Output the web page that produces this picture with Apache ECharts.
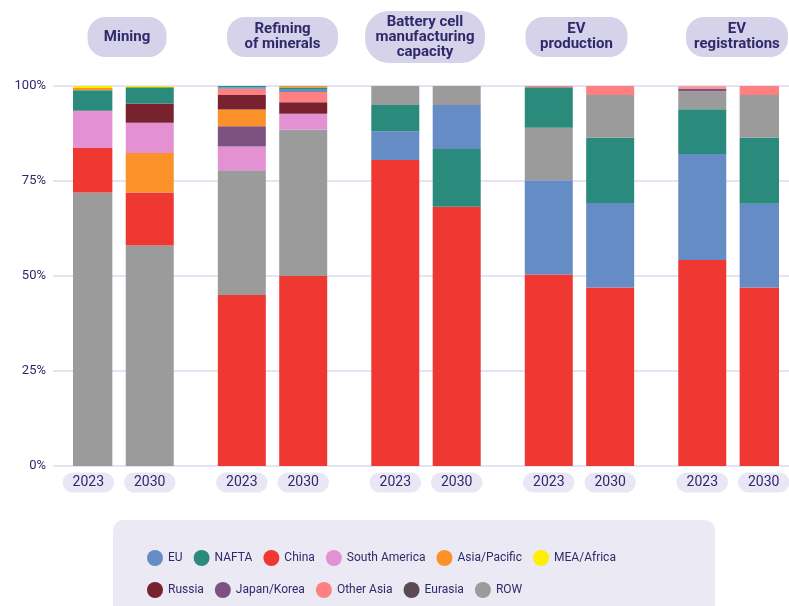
<!DOCTYPE html>
<html>
<head>
<meta charset="utf-8">
<script src="https://cdn.jsdelivr.net/npm/echarts@6/dist/echarts.min.js"></script>
<style>
  html, body { margin: 0; padding: 0; background: #ffffff; }
  #chart { width: 789px; height: 606px; }
</style>
</head>
<body>
<div id="chart"></div>
<script>
// Value-chain stages and the two years compared for each
const stages = ['Mining', 'Refining\nof minerals', 'Battery cell\nmanufacturing\ncapacity', 'EV\nproduction', 'EV\nregistrations'];
const years = ['2023', '2030'];

// Regions (legend order)
const regions = ['EU', 'NAFTA', 'China', 'South America', 'Asia/Pacific', 'MEA/Africa',
                 'Russia', 'Japan/Korea', 'Other Asia', 'Eurasia', 'ROW'];

// Share (%) per bar: Mining 23/30, Refining 23/30, Battery 23/30, EV prod 23/30, EV reg 23/30
const shareEU           = [0,    0,    0.35, 0.6,  7.6,  11.6, 24.8, 22.2, 27.9, 22.0];
const shareNAFTA        = [5.4,  4.3,  0.35, 0.6,  6.9,  15.2, 10.7, 17.2, 11.8, 17.4];
const shareChina        = [11.7, 14.0, 45.0, 50.0, 80.5, 68.2, 50.4, 47.0, 54.2, 47.0];
const shareSouthAmerica = [9.8,  7.9,  6.3,  4.2,  0,    0,    0,    0,    0.2,  0];
const shareAsiaPacific  = [0.6,  10.4, 4.4,  0.4,  0,    0,    0,    0,    0.25, 0];
const shareMEAAfrica    = [0.5,  0.3,  0,    0,    0,    0,    0,    0,    0,    0];
const shareRussia       = [0,    5.1,  3.8,  3.0,  0,    0,    0,    0,    0,    0];
const shareJapanKorea   = [0,    0,    5.3,  0,    0,    0,    0,    0,    0.6,  0];
const shareOtherAsia    = [0,    0,    1.7,  2.7,  0,    0,    0.3,  2.4,  0.3,  2.4];
const shareEurasia      = [0,    0,    0,    0,    0,    0,    0,    0,    0,    0];
const shareROW          = [72.0, 58.0, 32.8, 38.5, 5.0,  5.0,  13.8, 11.2, 4.75, 11.2];

const yTicks = [0, 25, 50, 75, 100];

// ---- styling / layout ----
const regionColors = ['#668cc5', '#2a8a7c', '#ef3832', '#e391d3', '#fb9129', '#ffee00',
                      '#782230', '#7d5181', '#fe8080', '#5b4a54', '#9b9b9b'];
const shares = [shareEU, shareNAFTA, shareChina, shareSouthAmerica, shareAsiaPacific, shareMEAAfrica,
                shareRussia, shareJapanKorea, shareOtherAsia, shareEurasia, shareROW];
const navy = '#2f2a6b';
const font = 'Roboto, "Noto Sans", sans-serif';

// slot layout on the category axis: bars with spacer slots between stages
const slotCount = 23;
const barSlots = [0, 2, 5, 7, 10, 12, 15, 17, 20, 22];
const stageSlots = [1, 6, 11, 16, 21];
const stageShift = [8, 10, -1, -3, 4];
const stagePill = [[79, 40], [111, 40], [120, 52], [102, 40], [102, 40]];

const slotNames = [];
const slotLabels = [];
for (let i = 0; i < slotCount; i++) { slotNames.push('s' + i); slotLabels.push(''); }
barSlots.forEach((s, b) => { slotLabels[s] = years[b % 2]; });

// Each bar stacks its regions largest-first from the bottom, so series are built by rank
const barCount = barSlots.length;
const orderPerBar = [];
for (let b = 0; b < barCount; b++) {
  const idx = regions.map((_, r) => r).filter(r => shares[r][b] > 0);
  idx.sort((a, c) => shares[c][b] - shares[a][b]);
  orderPerBar.push(idx);
}
const maxRank = Math.max(...orderPerBar.map(o => o.length));

const series = [];
for (let k = 0; k < maxRank; k++) {
  const data = slotNames.map(() => '-');
  for (let b = 0; b < barCount; b++) {
    const r = orderPerBar[b][k];
    if (r === undefined) continue;
    data[barSlots[b]] = { value: shares[r][b], name: regions[r], itemStyle: { color: regionColors[r] } };
  }
  series.push({
    name: 'rank' + k, type: 'bar', stack: 'share', xAxisIndex: 1, yAxisIndex: 1,
    barWidth: 48, data: data, silent: true
  });
}
// Legend entries for every region
regions.forEach((r, i) => {
  series.push({ name: r, type: 'bar', stack: 'share', xAxisIndex: 1, yAxisIndex: 1,
                barWidth: 48, data: [], itemStyle: { color: regionColors[i] } });
});

const legendCommon = {
  orient: 'horizontal', icon: 'circle', itemWidth: 16, itemHeight: 16, itemGap: 11,
  selectedMode: false,
  textStyle: { color: navy, fontSize: 12, fontFamily: font }
};

const chart = echarts.init(document.getElementById('chart'), null, { renderer: 'canvas' });
chart.setOption({
  animation: false,
  backgroundColor: '#ffffff',
  grid: [
    { left: 53, right: 0, top: 86, bottom: 140, containLabel: false, outerBoundsMode: 'none' },
    { left: 73, right: 10, top: 86, bottom: 140, containLabel: false, outerBoundsMode: 'none' }
  ],
  xAxis: [
    { gridIndex: 0, type: 'value', show: false, min: 0, max: 1 },
    {
      gridIndex: 1, type: 'category', data: slotNames, boundaryGap: true,
      axisLine: { show: false }, axisTick: { show: false },
      axisLabel: {
        interval: 0, margin: 9,
        formatter: (v, i) => slotLabels[i] ? '{p|' + slotLabels[i] + '}' : '',
        rich: {
          p: { backgroundColor: '#e9e7f5', borderRadius: 11, padding: [3, 10, 3, 10],
               color: navy, fontSize: 14, lineHeight: 15, fontFamily: font }
        }
      }
    }
  ],
  yAxis: [
    {
      gridIndex: 0, type: 'value', min: yTicks[0], max: yTicks[yTicks.length - 1],
      interval: yTicks[1] - yTicks[0],
      axisLine: { show: false }, axisTick: { show: false },
      axisLabel: { formatter: '{value}%', color: navy, fontSize: 13, fontFamily: font, margin: 7 },
      splitLine: { show: true, lineStyle: { color: '#dedbf0', width: 1.5 } }
    },
    { gridIndex: 1, type: 'value', min: 0, max: 100, show: false, splitLine: { show: false } }
  ],
  legend: [
    Object.assign({}, legendCommon, { left: 142, top: 545, data: regions.slice(0, 6) }),
    Object.assign({}, legendCommon, { left: 142, top: 577, data: regions.slice(6) })
  ],
  series: series
});

// Stage headers: rounded pills centred over each pair of bars
const graphics = [{
  type: 'rect', z: -10, left: 113, top: 520,
  shape: { width: 602, height: 110, r: 10 },
  style: { fill: '#ebe9f4' }
}];
stages.forEach((name, g) => {
  const cx = chart.convertToPixel({ xAxisIndex: 1 }, slotNames[stageSlots[g]]) + stageShift[g];
  const cy = 37;
  const [w, h] = stagePill[g];
  graphics.push({
    type: 'rect', z: 5,
    shape: { x: cx - w / 2, y: cy - h / 2, width: w, height: h, r: h / 2 - 2 },
    style: { fill: '#d6d2e9' }
  });
  graphics.push({
    type: 'text', z: 6, x: cx, y: cy,
    style: { text: name, fill: navy, font: 'bold 15px ' + font, lineHeight: 15,
             align: 'center', verticalAlign: 'middle' }
  });
});
chart.setOption({ graphic: graphics });
</script>
</body>
</html>
